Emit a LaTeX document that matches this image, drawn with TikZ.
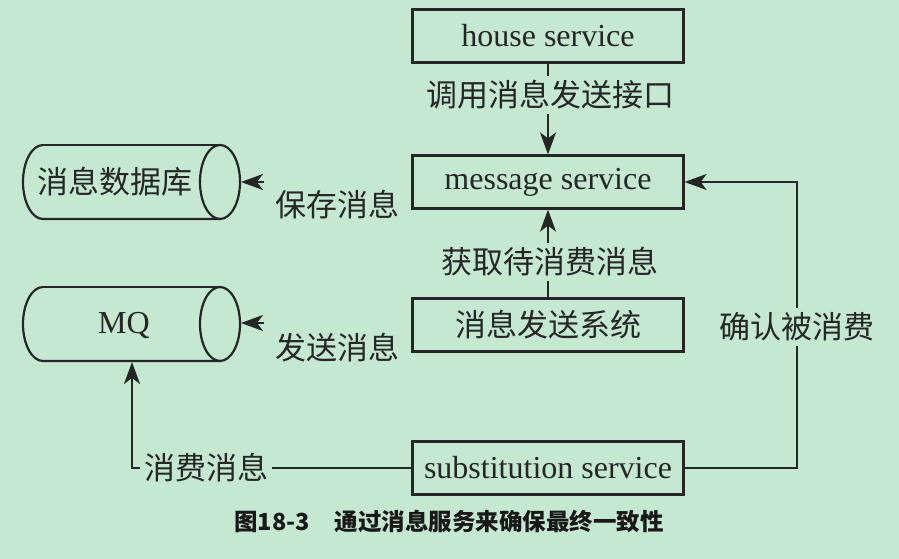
\documentclass[tikz,border=0pt]{standalone}
\usepackage{fontspec}
\setmainfont{Liberation Serif}
\newfontfamily\cjk{Noto Sans CJK SC}
\newfontfamily\capfont{Noto Sans CJK SC}
\usetikzlibrary{arrows.meta}
\definecolor{bg}{RGB}{197,232,208}
\definecolor{ink}{RGB}{38,38,38}
\tikzset{
  box/.style={draw=ink, line width=2.2pt, minimum width=271pt, minimum height=53pt, inner sep=0pt,
    font=\fontsize{32}{32}\selectfont, text=ink},
  cbox/.style={box, font=\cjk\fontsize{31}{31}\selectfont},
  lbl/.style={font=\cjk\fontsize{31}{31}\selectfont, text=ink, inner xsep=4pt, inner ysep=4pt},
  conn/.style={draw=ink, line width=2.2pt},
  arr/.style={conn, -{Stealth[length=22pt, width=16pt, inset=6pt]}},
  cyl/.style={draw=ink, line width=2.2pt},
}
\begin{document}
\begin{tikzpicture}[x=1pt, y=-1pt]
\path[fill=bg] (0,0) rectangle (899,559);

% boxes
\node[box]  (house) at (548,36)  {house service};
\node[box]  (msg)   at (548,182) {message service};
\node[cbox] (sys)   at (548,325) {消息发送系统};
\node[box]  (sub)   at (548,468) {substitution service};

% cylinders
\draw[cyl] (43,145) arc[start angle=90, end angle=270, x radius=20pt, y radius=37pt] -- (220,219);
\draw[cyl] (43,145) -- (220,145);
\draw[cyl] (220,182) ellipse[x radius=20pt, y radius=37pt];
\node[lbl] (db) at (115,182) {消息数据库};
\coordinate (dbE) at (241,182);
\coordinate (dbA) at (264,182);

\draw[cyl] (43,287) arc[start angle=90, end angle=270, x radius=20pt, y radius=37pt] -- (220,361);
\draw[cyl] (43,287) -- (220,287);
\draw[cyl] (220,324) ellipse[x radius=20pt, y radius=37pt];
\node[font=\fontsize{32}{32}\selectfont, text=ink] (mq) at (124,325) {MQ};
\coordinate (mqE) at (241,323);
\coordinate (mqA) at (264,323);
\coordinate (mqS) at (132,362);

% labels
\node[lbl] (l1) at (550,95)  {调用消息发送接口};
\node[lbl] (l2) at (550,262) {获取待消费消息};
\node[lbl] (l3) at (337,205) {保存消息};
\node[lbl] (l4) at (337,348) {发送消息};
\node[lbl] (l5) at (797,327) {确认被消费};
\node[lbl] (l6) at (206,468) {消费消息};

% connectors
\draw[conn] (house.south) -- (house.south |- l1.north);
\draw[arr]  (msg.north |- l1.south) -- (msg.north);
\draw[conn] (sys.north) -- (sys.north |- l2.south);
\draw[arr]  (msg.south |- l2.north) -- (msg.south);
\draw[arr]  (dbA) -- (dbE);
\draw[arr]  (mqA) -- (mqE);
\draw[conn] (sub.east) -| (l5.south);
\draw[arr]  (l5.north) |- (msg.east);
\draw[conn] (sub.west) -- (l6.east);
\draw[arr]  (l6.west) -| (mqS);

% caption
\node[font=\capfont\bfseries\fontsize{23.5}{23.5}\selectfont, text=black!90] (cap) at (449,521)
  {图18-3\hspace{25pt}通过消息服务来确保最终一致性};
\end{tikzpicture}
\end{document}
